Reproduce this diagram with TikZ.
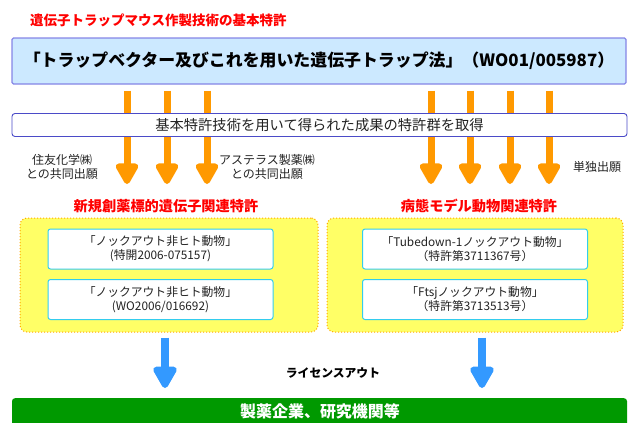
\documentclass[tikz,border=0pt]{standalone}
\usepackage{fontspec}
\setmainfont{Noto Sans CJK JP}
\usetikzlibrary{arrows.meta}
\definecolor{titlered}{HTML}{FF0000}
\definecolor{topfill}{HTML}{CCE9FF}
\definecolor{topdraw}{HTML}{8585E6}
\definecolor{middraw}{HTML}{4B4BC8}
\definecolor{orangearr}{HTML}{FF9900}
\definecolor{yellowfill}{HTML}{FFFF66}
\definecolor{yellowdraw}{HTML}{FFA500}
\definecolor{cyandraw}{HTML}{33CCEE}
\definecolor{bluearr}{HTML}{3399FF}
\definecolor{greenbar}{HTML}{009900}
\definecolor{bodytext}{HTML}{222222}
\tikzset{
  titletext/.style={text=titlered, font=\bfseries\fontsize{13.5}{16}\selectfont, inner sep=0pt},
  subtitle/.style={text=titlered, font=\bfseries\fontsize{14.2}{16}\selectfont, inner sep=0pt},
  label/.style={text=bodytext, font=\fontsize{12}{14.5}\selectfont, align=center, inner sep=0pt},
  topbox/.style={draw=topdraw, fill=topfill, line width=1.2pt, rounded corners=1.5pt,
     minimum width=614pt, minimum height=46pt, font=\bfseries\fontsize{16.9}{19}\selectfont},
  midbox/.style={draw=middraw, fill=white, line width=0.9pt, rounded corners=3pt,
     minimum width=615pt, minimum height=23pt, text=bodytext, font=\fontsize{14.3}{16}\selectfont},
  yellowbox/.style={draw=yellowdraw, fill=yellowfill, line width=1pt, dotted, rounded corners=7pt,
     minimum height=114pt},
  innerbox/.style={draw=cyandraw, fill=white, line width=1pt, rounded corners=2.5pt,
     minimum width=225pt, minimum height=40pt, align=center, text=bodytext,
     font=\fontsize{11.8}{14}\selectfont},
  orangearrow/.style={draw=orangearr, line width=7pt,
     -{Triangle[length=24pt,width=25pt,round]}},
  bluearrow/.style={draw=bluearr, line width=8pt,
     -{Triangle[length=25pt,width=26pt,round]}},
}
\begin{document}
\begin{tikzpicture}[x=1pt,y=-1pt]
\useasboundingbox (0,0) rectangle (633,423);

\node[titletext, anchor=west] (title) at (30,20) {遺伝子トラップマウス作製技術の基本特許};
\node[topbox] (top) at (319,61) {「トラップベクター及びこれを用いた遺伝子トラップ法」（WO01/005987）};

% orange arrows (behind middle box)
\foreach \i/\x in {1/127,2/167,3/207,4/431,5/470,6/510,7/549}{
  \coordinate (oe\i) at (\x,184);
  \draw[orangearrow] (top.south -| oe\i) ++(0,6) -- (oe\i);
}

\node[midbox] (mid) at (319.5,125) {基本特許技術を用いて得られた成果の特許群を取得};

\node[label] (sumi) at (62,167) {住友化学㈱\\との共同出願};
\node[label] (aste) at (267,167) {アステラス製薬㈱\\との共同出願};
\node[label] (tan) at (597,167) {単独出願};

\node[subtitle] (subl) at (166,206) {新規創薬標的遺伝子関連特許};
\node[subtitle] (subr) at (479,206) {病態モデル動物関連特許};

\node[yellowbox, minimum width=298pt] (yl) at (169,275) {};
\node[yellowbox, minimum width=296pt] (yr) at (475,275) {};

\node[innerbox] (l1) at (160.5,249) {「ノックアウト非ヒト動物」\\(特開2006-075157)};
\node[innerbox] (l2) at (160.5,299.5) {「ノックアウト非ヒト動物」\\(WO2006/016692)};
\node[innerbox] (r1) at (475,249) {「Tubedown-1ノックアウト動物」\\（特許第3711367号）};
\node[innerbox] (r2) at (475,299.5) {「Ftsjノックアウト動物」\\（特許第3713513号）};

\node[fill=greenbar, rounded corners=3pt, minimum width=615pt, minimum height=30pt,
      anchor=north, inner sep=0pt] (green) at (319.5,398) {};
\node[text=white, font=\bfseries\fontsize{16}{18}\selectfont, inner sep=0pt] (greentext) at (320,411.5) {製薬企業、研究機関等};

\node[font=\bfseries\fontsize{11.8}{14}\selectfont, inner sep=0pt] (lic) at (333,373) {ライセンスアウト};

\draw[bluearrow, shorten <=5pt, shorten >=10pt] (yl.south -| 165,0) -- (green.north -| 165,0);
\draw[bluearrow, shorten <=5pt, shorten >=10pt] (yr.south -| 482,0) -- (green.north -| 482,0);
\end{tikzpicture}
\end{document}
